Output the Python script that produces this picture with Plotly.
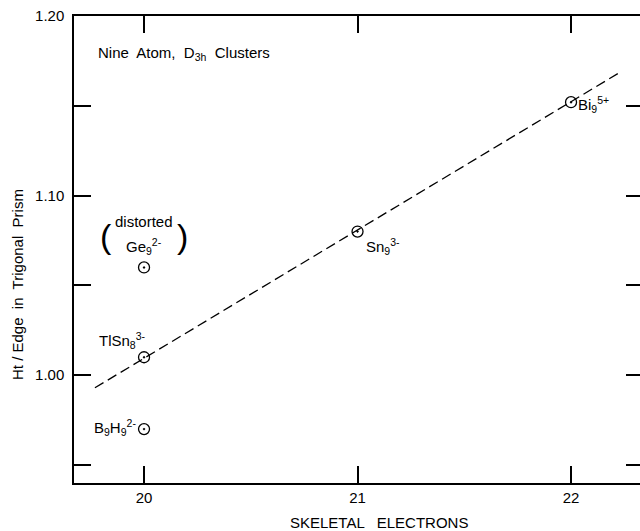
import plotly.graph_objects as go

# Data
electrons = [20, 20, 20, 21, 22]
ht_edge = [1.01, 0.97, 1.06, 1.08, 1.152]
labels = ["TlSn<sub>8</sub><sup>3-</sup>", "B<sub>9</sub>H<sub>9</sub><sup>2-</sup>",
          "Ge<sub>9</sub><sup>2-</sup>", "Sn<sub>9</sub><sup>3-</sup>", "Bi<sub>9</sub><sup>5+</sup>"]
fit_x = [19.77, 22.22]
fit_y = [0.993, 1.168]
x_ticks = [20, 21, 22]
y_ticks = [0.95, 1.00, 1.05, 1.10, 1.15, 1.20]
y_ticktext = ["", "1.00", "", "1.10", "", "1.20"]

FONT = "Liberation Sans"
L, T, R, B = 74, 16, 0, 48
PW, PH = 640 - L - R, 531 - T - B

fig = go.Figure()
fig.add_trace(go.Scatter(x=fit_x, y=fit_y, mode="lines",
                         line=dict(color="black", width=1.3, dash="10px,5px"),
                         showlegend=False, hoverinfo="skip"))
fig.add_trace(go.Scatter(x=electrons, y=ht_edge, mode="markers",
                         marker=dict(symbol="circle-open-dot", size=11, color="black",
                                     line=dict(width=1.3, color="black")),
                         showlegend=False))
# invisible trace for right tick axis
fig.add_trace(go.Scatter(x=[20], y=[1.0], yaxis="y2", mode="markers",
                         marker=dict(opacity=0), showlegend=False, hoverinfo="skip"))

# point labels: (xanchor, yanchor, xshift, yshift)
offsets = [
    ("right", "bottom", 4, 4),
    ("right", "middle", -6, 2),
    ("center", "bottom", 0, 8),
    ("left", "top", 6, -2),
    ("left", "middle", 5, -2),
]
lab_font = dict(family=FONT, size=15, color="black")
anns = []
for (xa, ya, xs, ys), t, x, y in zip(offsets, labels, electrons, ht_edge):
    anns.append(dict(x=x, y=y, text=t, showarrow=False, xanchor=xa, yanchor=ya,
                     xshift=xs, yshift=ys, font=lab_font))
anns.append(dict(x=20, y=1.06, text="distorted", showarrow=False, xanchor="center",
                 yanchor="bottom", yshift=35, font=lab_font))
anns.append(dict(x=20, y=1.06, text="(", showarrow=False, xanchor="center", yanchor="bottom",
                 xshift=-38, yshift=10, font=dict(family=FONT, size=34, color="black")))
anns.append(dict(x=20, y=1.06, text=")", showarrow=False, xanchor="center", yanchor="bottom",
                 xshift=38, yshift=10, font=dict(family=FONT, size=34, color="black")))
anns.append(dict(x=(96 - L) / PW, y=(483 - 53) / PH, xref="paper", yref="paper",
                 text="Nine  Atom,  D<sub>3h</sub>  Clusters",
                 showarrow=False, xanchor="left", yanchor="middle",
                 font=dict(family=FONT, size=15, color="black")))
# axis titles
anns.append(dict(x=(379 - L) / PW, y=-(522 - 483) / PH, xref="paper", yref="paper",
                 text="SKELETAL   ELECTRONS", showarrow=False, xanchor="center",
                 yanchor="middle", font=dict(family=FONT, size=15, color="black")))
anns.append(dict(x=-(L - 17) / PW, y=(483 - 285) / PH, xref="paper", yref="paper",
                 text="Ht / Edge  in  Trigonal  Prism", textangle=-90, showarrow=False,
                 xanchor="center", yanchor="middle", font=dict(family=FONT, size=15, color="black")))

fig.update_layout(
    width=640, height=531,
    margin=dict(l=L, r=R, t=T, b=B),
    paper_bgcolor="white", plot_bgcolor="white",
    annotations=anns,
    xaxis=dict(range=[19.672, 22.323], tickvals=x_ticks, ticktext=[str(v) for v in x_ticks],
               ticks="inside", ticklen=17, tickwidth=1.5, tickcolor="black",
               showline=True, linecolor="black", linewidth=1.5, mirror="ticks",
               showgrid=False, zeroline=False, automargin=False,
               tickfont=dict(family=FONT, size=15, color="black")),
    yaxis=dict(range=[0.94, 1.20], tickvals=y_ticks, ticktext=y_ticktext,
               ticks="inside", ticklen=17, tickwidth=1.5, tickcolor="black",
               showline=True, linecolor="black", linewidth=1.5, ticklabelstandoff=5,
               showgrid=False, zeroline=False, automargin=False,
               tickfont=dict(family=FONT, size=15, color="black")),
    yaxis2=dict(range=[0.94, 1.20], tickvals=y_ticks, overlaying="y", side="right",
                ticks="inside", ticklen=14, tickwidth=1.5, tickcolor="black",
                showticklabels=False, showline=False, showgrid=False, zeroline=False,
                automargin=False),
)

fig.write_html("out.html", config={"displayModeBar": False},
               post_script="document.body.style.margin='0px';")
